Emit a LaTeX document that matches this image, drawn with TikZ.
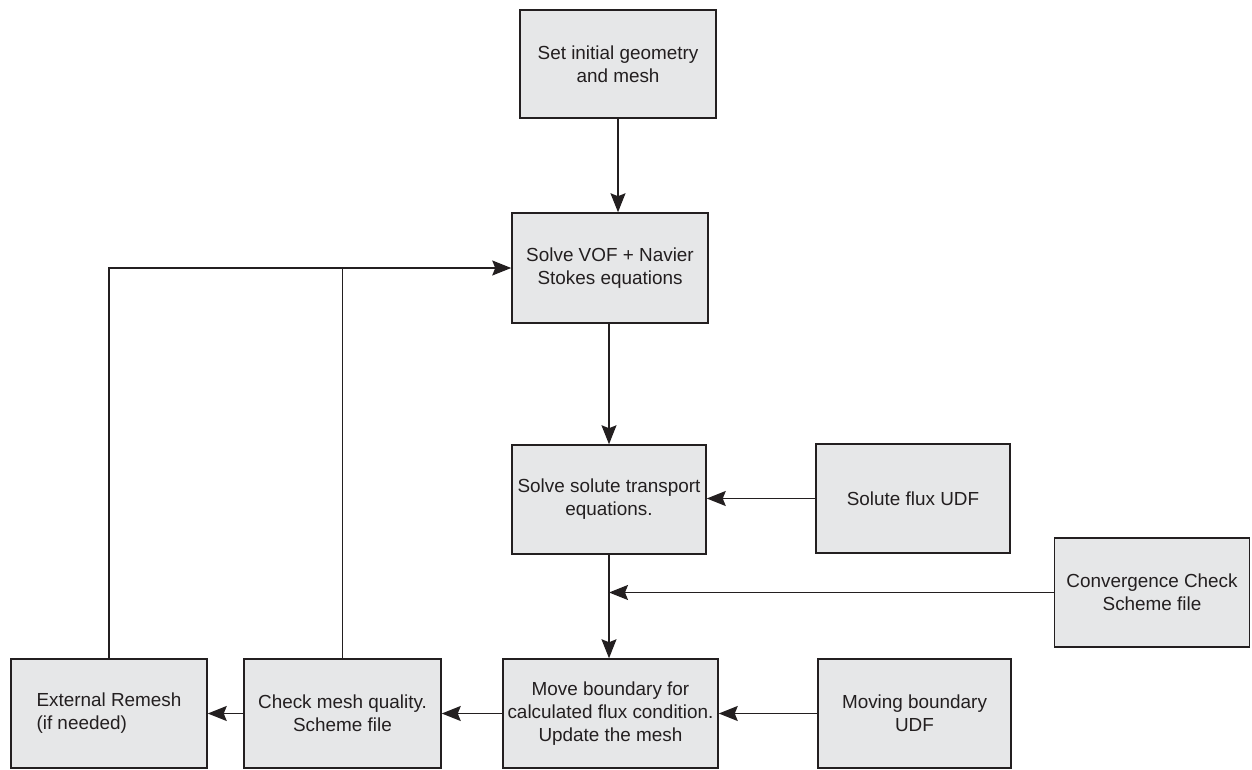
\documentclass[tikz,border=0pt]{standalone}
\usepackage{fontspec}
\setmainfont{Liberation Sans}
\usetikzlibrary{arrows.meta}
\definecolor{ink}{HTML}{231F20}
\definecolor{boxfill}{HTML}{E6E7E8}
\tikzset{
  box/.style={draw=ink, fill=boxfill, line width=1.5pt, text=ink, align=center,
    inner sep=2pt, font=\fontsize{18.9pt}{23pt}\selectfont},
  conn/.style={draw=ink, line width=1.5pt},
  arr/.style={conn, -{Stealth[length=19pt,width=15pt,inset=3pt]}}
}
\begin{document}
\begin{tikzpicture}[x=1pt,y=-1pt]
\useasboundingbox (0,0) rectangle (1252,769);
\node[box, minimum width=196pt, minimum height=108pt] (b1) at (618,64) {Set initial geometry\\and mesh};
\node[box, minimum width=196pt, minimum height=110pt] (b2) at (610,268) {Solve VOF + Navier\\Stokes equations};
\node[box, minimum width=194pt, minimum height=109pt] (b3) at (609,499.5) {Solve solute transport\\equations.};
\node[box, minimum width=194pt, minimum height=109pt] (b4) at (913,498.5) {Solute flux UDF};
\node[box, minimum width=195pt, minimum height=109pt] (b5) at (1152,592.5) {Convergence Check\\Scheme file};
\node[box, minimum width=215pt, minimum height=109pt] (b6) at (610.5,713.5) {Move boundary for\\calculated flux condition.\\Update the mesh};
\node[box, minimum width=193pt, minimum height=109pt] (b7) at (914.5,713.5) {Moving boundary\\UDF};
\node[box, minimum width=197pt, minimum height=109pt] (b8) at (342.5,713.5) {Check mesh quality.\\Scheme file};
\node[box, minimum width=196pt, minimum height=109pt, align=left] (b9) at (109,713.5) {External Remesh\\(if needed)};

\draw[arr] (b1.south) -- (b1.south |- b2.north);
\draw[arr] (b3.north |- b2.south) -- (b3.north);
\draw[arr] (b4.west) -- (b4.west -| b3.east);
\draw[arr] (b3.south) -- (b3.south |- b6.north);
\coordinate (j1) at (b3.south |- b5.west);
\draw[arr] (b5.west) -- (j1);
\draw[arr] (b7.west) -- (b6.east);
\draw[arr] (b6.west) -- (b8.east);
\draw[arr] (b8.west) -- (b9.east);
\draw[arr] (b9.north) |- (b2.west);
\coordinate (j2) at (b8.north |- b2.west);
\draw[conn] (b8.north) -- (j2);
\end{tikzpicture}
\end{document}
